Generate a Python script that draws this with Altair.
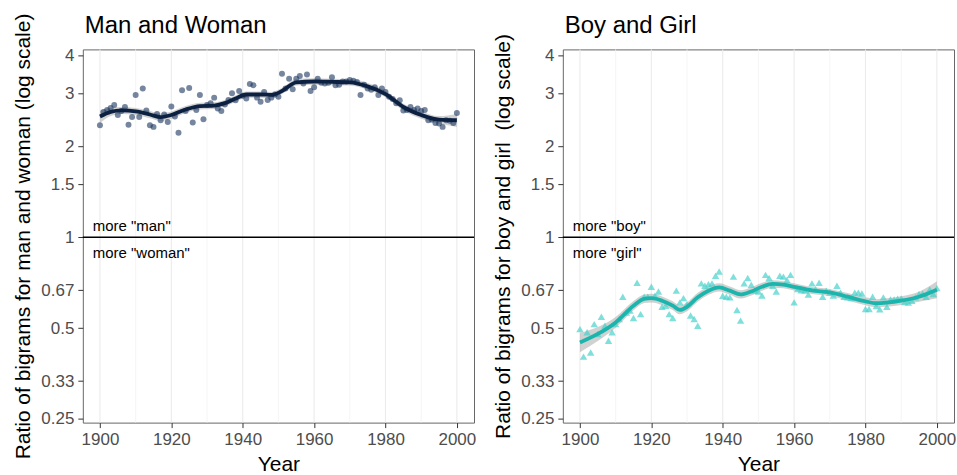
import altair as alt
import pandas as pd

# ---------------- data ----------------
years = list(range(1900, 2001))

man_woman = [
    2.35, 2.60, 2.64, 2.68, 2.74, 2.54, 2.62, 2.70, 2.36, 2.50,
    2.96, 2.50, 3.11, 2.63, 2.35, 2.32, 2.56, 2.44, 2.55, 2.41,
    2.71, 2.51, 2.22, 3.07, 2.62, 3.12, 2.40, 2.64, 2.96, 2.46,
    2.74, 2.78, 2.90, 2.67, 2.62, 2.75, 2.85, 3.00, 2.84, 3.05,
    2.94, 2.88, 3.22, 3.19, 2.90, 2.81, 3.03, 2.85, 2.90, 2.97,
    2.92, 3.48, 3.11, 3.35, 3.09, 3.35, 3.42, 3.23, 3.46, 3.05,
    3.14, 3.35, 3.25, 3.23, 3.25, 3.39, 3.19, 3.20, 3.28, 3.28,
    3.32, 3.30, 3.27, 2.96, 3.20, 3.11, 3.08, 3.14, 2.96, 3.11,
    3.03, 2.92, 2.87, 2.78, 2.84, 2.63, 2.64, 2.70, 2.64, 2.67,
    2.62, 2.64, 2.44, 2.45, 2.39, 2.38, 2.32, 2.44, 2.43, 2.39,
    2.58,
]

boy_girl = [
    0.496, 0.402, 0.484, 0.415, 0.515, 0.478, 0.545, 0.509, 0.454, 0.484,
    0.515, 0.536, 0.635, 0.563, 0.571, 0.540, 0.706, 0.556, 0.635, 0.635,
    0.685, 0.640, 0.661, 0.588, 0.593, 0.556, 0.540, 0.665, 0.608, 0.628,
    0.600, 0.550, 0.536, 0.509, 0.703, 0.690, 0.699, 0.703, 0.745, 0.770,
    0.640, 0.635, 0.632, 0.740, 0.574, 0.529, 0.703, 0.732, 0.696, 0.665,
    0.661, 0.641, 0.750, 0.732, 0.690, 0.661, 0.745, 0.740, 0.721, 0.750,
    0.608, 0.673, 0.667, 0.665, 0.645, 0.703, 0.673, 0.706, 0.635, 0.665,
    0.655, 0.641, 0.690, 0.655, 0.635, 0.632, 0.628, 0.655, 0.655, 0.651,
    0.578, 0.578, 0.635, 0.591, 0.577, 0.632, 0.588, 0.622, 0.622, 0.625,
    0.627, 0.610, 0.607, 0.616, 0.632, 0.648, 0.651, 0.635, 0.671, 0.648,
    0.678,
]

# smoothed fits with confidence band
mw_smooth_years = [1900, 1903, 1906, 1910, 1914, 1917, 1920, 1924, 1928, 1932,
                   1935, 1938, 1941, 1945, 1948, 1951, 1955, 1960, 1965, 1970,
                   1975, 1980, 1985, 1990, 1995, 2000]
mw_fit = [2.51, 2.60, 2.63, 2.61, 2.55, 2.50, 2.54, 2.65, 2.72, 2.73,
          2.78, 2.88, 2.97, 2.97, 2.96, 3.05, 3.26, 3.28, 3.27, 3.26,
          3.16, 2.98, 2.70, 2.54, 2.45, 2.44]
mw_lo = [2.39, 2.52, 2.56, 2.54, 2.48, 2.43, 2.47, 2.58, 2.65, 2.66,
         2.71, 2.81, 2.90, 2.90, 2.89, 2.98, 3.18, 3.20, 3.19, 3.18,
         3.08, 2.91, 2.63, 2.47, 2.38, 2.32]
mw_hi = [2.63, 2.68, 2.70, 2.68, 2.62, 2.57, 2.61, 2.72, 2.79, 2.80,
         2.85, 2.95, 3.04, 3.04, 3.03, 3.12, 3.34, 3.36, 3.35, 3.34,
         3.24, 3.05, 2.77, 2.61, 2.52, 2.56]

bg_smooth_years = [1900, 1905, 1910, 1915, 1918, 1920, 1923, 1926, 1928, 1930,
                   1933, 1936, 1939, 1942, 1945, 1948, 1951, 1954, 1957, 1960,
                   1965, 1970, 1975, 1980, 1983, 1986, 1990, 1995, 2000]
bg_fit = [0.448, 0.478, 0.522, 0.593, 0.625, 0.628, 0.616, 0.593, 0.574, 0.588,
          0.632, 0.665, 0.682, 0.665, 0.646, 0.661, 0.685, 0.700, 0.696, 0.685,
          0.666, 0.656, 0.635, 0.613, 0.604, 0.607, 0.616, 0.635, 0.670]
bg_lo = [0.416, 0.453, 0.501, 0.573, 0.605, 0.608, 0.596, 0.574, 0.555, 0.568,
         0.611, 0.644, 0.661, 0.645, 0.626, 0.641, 0.665, 0.680, 0.677, 0.666,
         0.648, 0.638, 0.617, 0.595, 0.586, 0.588, 0.596, 0.611, 0.628]
bg_hi = [0.482, 0.504, 0.544, 0.614, 0.646, 0.649, 0.636, 0.613, 0.594, 0.608,
         0.654, 0.687, 0.703, 0.686, 0.667, 0.682, 0.706, 0.720, 0.715, 0.704,
         0.684, 0.674, 0.653, 0.632, 0.623, 0.627, 0.637, 0.660, 0.714]

x_ticks = [1900, 1920, 1940, 1960, 1980, 2000]
major_grid = [1900, 1920, 1940, 1960, 1980, 2000]
minor_grid = [1910, 1930, 1950, 1970, 1990]
y_ticks = [0.25, 1 / 3, 0.5, 2 / 3, 1, 1.5, 2, 3, 4]

FONT = "Liberation Sans"
W, H = 392, 374


def panel(title, ytitle, values, sm_years, fit, lo, hi, shape, pt_color,
          pt_opacity, pt_size, line_color, up_text, down_text):
    xscale = alt.Scale(domain=[1895.2, 2004.8], nice=False, zero=False)
    yscale = alt.Scale(type="log", domain=[0.243, 4.19], nice=False)
    xaxis = alt.Axis(values=x_ticks, format="d", title="Year", grid=False,
                     domain=False, tickSize=5, tickColor="#333333",
                     labelPadding=4, labelFontSize=17, labelColor="#4d4d4d",
                     labelFont=FONT, titleFont=FONT, titleFontSize=21,
                     titleFontWeight="normal", titleColor="black",
                     titleBaseline="alphabetic", titleY=48)
    yaxis = alt.Axis(values=y_ticks, format=".2~f", title=ytitle, grid=False,
                     domain=False, tickSize=5, tickColor="#333333",
                     labelPadding=4, labelFontSize=17, labelColor="#4d4d4d",
                     labelFont=FONT, titleFont=FONT, titleFontSize=21,
                     titleFontWeight="normal", titleColor="black",
                     titleBaseline="alphabetic", titleX=-53, titleY=H / 2,
                     titleAngle=-90, titleAlign="center")

    pts = pd.DataFrame({"year": years, "v": values})
    sm = pd.DataFrame({"year": sm_years, "v": fit, "lo": lo, "hi": hi})
    gmaj = pd.DataFrame({"year": major_grid})
    gmin = pd.DataFrame({"year": minor_grid})
    one = pd.DataFrame({"v": [1.0]})
    up_df = pd.DataFrame({"year": [1898], "v": [1.0], "t": [up_text]})
    down_df = pd.DataFrame({"year": [1898], "v": [1.0], "t": [down_text]})
    title_df = pd.DataFrame({"t": [title]})

    X = alt.X("year:Q", scale=xscale, axis=xaxis)
    Y = alt.Y("v:Q", scale=yscale, axis=yaxis)

    grid_major = alt.Chart(gmaj).mark_rule(color="#ebebeb", strokeWidth=1.1).encode(
        x=X, y=alt.value(0), y2=alt.value(H))
    grid_minor = alt.Chart(gmin).mark_rule(color="#f2f2f2", strokeWidth=0.8).encode(
        x=X, y=alt.value(0), y2=alt.value(H))
    band = alt.Chart(sm).mark_area(color="#999999", opacity=0.45,
                                   interpolate="monotone").encode(
        x=X, y=alt.Y("lo:Q", scale=yscale, axis=yaxis), y2="hi:Q")
    points = alt.Chart(pts).mark_point(shape=shape, filled=True, size=pt_size,
                                        color=pt_color, opacity=pt_opacity,
                                        strokeWidth=0).encode(x=X, y=Y)
    line = alt.Chart(sm).mark_line(color=line_color, strokeWidth=3.8,
                                   interpolate="monotone").encode(x=X, y=Y)
    hline = alt.Chart(one).mark_rule(color="black", strokeWidth=1.4).encode(y=Y)
    up = alt.Chart(up_df).mark_text(
        align="left", baseline="alphabetic", dy=-6, fontSize=15, font=FONT,
        color="black").encode(x=X, y=Y, text="t:N")
    down = alt.Chart(down_df).mark_text(
        align="left", baseline="alphabetic", dy=21, fontSize=15, font=FONT,
        color="black").encode(x=X, y=Y, text="t:N")
    ttl = alt.Chart(title_df).mark_text(
        align="left", baseline="alphabetic", fontSize=24, font=FONT,
        color="black").encode(x=alt.value(2), y=alt.value(-16), text="t:N")

    return alt.layer(grid_minor, grid_major, band, points, line, hline, up,
                     down, ttl).properties(width=W, height=H)


left = panel("Man and Woman", "Ratio of bigrams for man and woman (log scale)",
             man_woman, mw_smooth_years, mw_fit, mw_lo, mw_hi, "circle",
             "#1b365d", 0.6, 36, "#0c2142", 'more "man"', 'more "woman"')
right = panel("Boy and Girl", "Ratio of bigrams for boy and girl\u00a0 (log scale)",
              boy_girl, bg_smooth_years, bg_fit, bg_lo, bg_hi, "triangle-up",
              "#48d1cc", 0.7, 55, "#1ab5ad", 'more "boy"', 'more "girl"')

chart = alt.hconcat(left, right, spacing=89, bounds="flush").configure_view(
    stroke="#666666", strokeWidth=1
).properties(
    padding={"left": 12, "top": 11, "right": 0, "bottom": 0},
    background="white",
)

chart.save("out.html", embed_options={"renderer": "svg", "actions": False})
